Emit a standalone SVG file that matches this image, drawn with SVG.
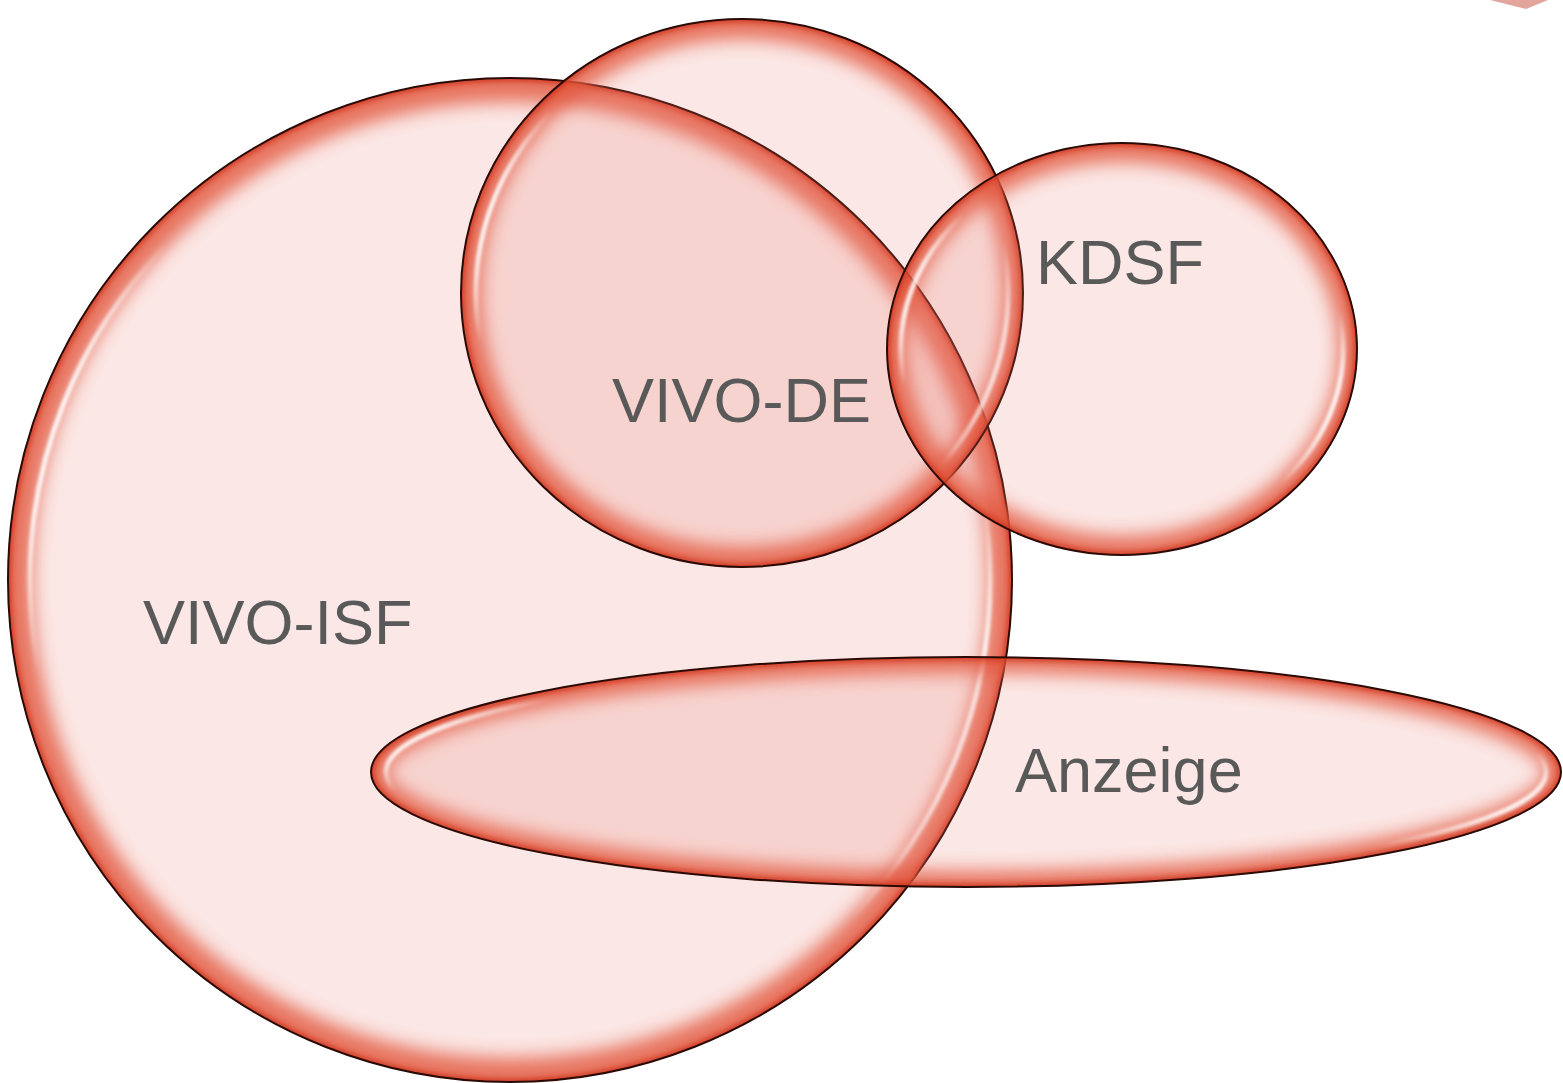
<svg xmlns="http://www.w3.org/2000/svg" width="1563" height="1083" viewBox="0 0 1563 1083">
<style>
.fill{fill:rgb(232,120,110);fill-opacity:.18}
.glow{fill:none;stroke:rgb(226,86,60);filter:url(#soft);opacity:.8}
.edge{fill:none;stroke:rgb(205,45,20);stroke-width:7;filter:url(#soft2);opacity:.75}
.hl{fill:none;stroke:url(#hlg);stroke-width:5;filter:url(#soft3)}
.outline{fill:none;stroke:#2b0a04;stroke-width:2}
.label{font-family:"Liberation Sans",Arial,Helvetica,sans-serif;font-size:63px;fill:#595959}
</style>
<defs>
<filter id="soft" x="-10%" y="-10%" width="120%" height="120%"><feGaussianBlur stdDeviation="9"/></filter>
<filter id="soft2" x="-10%" y="-10%" width="120%" height="120%"><feGaussianBlur stdDeviation="2.5"/></filter>
<filter id="soft3" x="-10%" y="-10%" width="120%" height="120%"><feGaussianBlur stdDeviation="1.8"/></filter>
<linearGradient id="hlg" x1="0" y1="0.35" x2="1" y2="0.65">
<stop offset="0" stop-color="#fff" stop-opacity="1"/>
<stop offset="0.025" stop-color="#fff" stop-opacity="0.85"/>
<stop offset="0.075" stop-color="#fff" stop-opacity="0"/>
<stop offset="0.925" stop-color="#fff" stop-opacity="0"/>
<stop offset="0.975" stop-color="#fff" stop-opacity="0.85"/>
<stop offset="1" stop-color="#fff" stop-opacity="1"/>
</linearGradient>
<clipPath id="c-isf"><ellipse cx="510" cy="580" rx="502" ry="502"/></clipPath>
<clipPath id="c-de"><ellipse cx="742" cy="293" rx="281" ry="274"/></clipPath>
<clipPath id="c-kdsf"><ellipse cx="1122" cy="349" rx="235" ry="206"/></clipPath>
<clipPath id="c-anz"><ellipse cx="966" cy="772" rx="595" ry="115"/></clipPath>
</defs>
<rect width="1563" height="1083" fill="#fff"/>
<polygon points="1490,0 1526,9 1548,0" fill="rgb(226,165,155)"/>

<g id="vivo-isf">
<ellipse class="fill" cx="510" cy="580" rx="502" ry="502"/>
<g clip-path="url(#c-isf)">
<ellipse class="glow" cx="510" cy="580" rx="502" ry="502" stroke-width="48"/>
<ellipse class="edge" cx="510" cy="580" rx="502" ry="502"/>
</g>
<ellipse class="hl" cx="510" cy="580" rx="480" ry="480"/>
<ellipse class="outline" cx="510" cy="580" rx="502" ry="502"/>
</g>

<g id="vivo-de">
<ellipse class="fill" cx="742" cy="293" rx="281" ry="274"/>
<g clip-path="url(#c-de)">
<ellipse class="glow" cx="742" cy="293" rx="281" ry="274" stroke-width="40"/>
<ellipse class="edge" cx="742" cy="293" rx="281" ry="274"/>
</g>
<ellipse class="hl" cx="742" cy="293" rx="266" ry="259"/>
<ellipse class="outline" cx="742" cy="293" rx="281" ry="274"/>
</g>

<g id="kdsf">
<ellipse class="fill" cx="1122" cy="349" rx="235" ry="206"/>
<g clip-path="url(#c-kdsf)">
<ellipse class="glow" cx="1122" cy="349" rx="235" ry="206" stroke-width="38"/>
<ellipse class="edge" cx="1122" cy="349" rx="235" ry="206"/>
</g>
<ellipse class="hl" cx="1122" cy="349" rx="221" ry="192"/>
<ellipse class="outline" cx="1122" cy="349" rx="235" ry="206"/>
</g>

<g id="anzeige">
<ellipse class="fill" cx="966" cy="772" rx="595" ry="115"/>
<g clip-path="url(#c-anz)">
<ellipse class="glow" cx="966" cy="772" rx="595" ry="115" stroke-width="32"/>
<ellipse class="edge" cx="966" cy="772" rx="595" ry="115"/>
</g>
<ellipse class="hl" cx="966" cy="772" rx="580" ry="104"/>
<ellipse class="outline" cx="966" cy="772" rx="595" ry="115"/>
</g>

<g id="labels">
<text class="label" x="143" y="644">VIVO-ISF</text>
<text class="label" x="612" y="422">VIVO-DE</text>
<text class="label" x="1036" y="284">KDSF</text>
<text class="label" x="1015" y="792">Anzeige</text>
</g>
</svg>
